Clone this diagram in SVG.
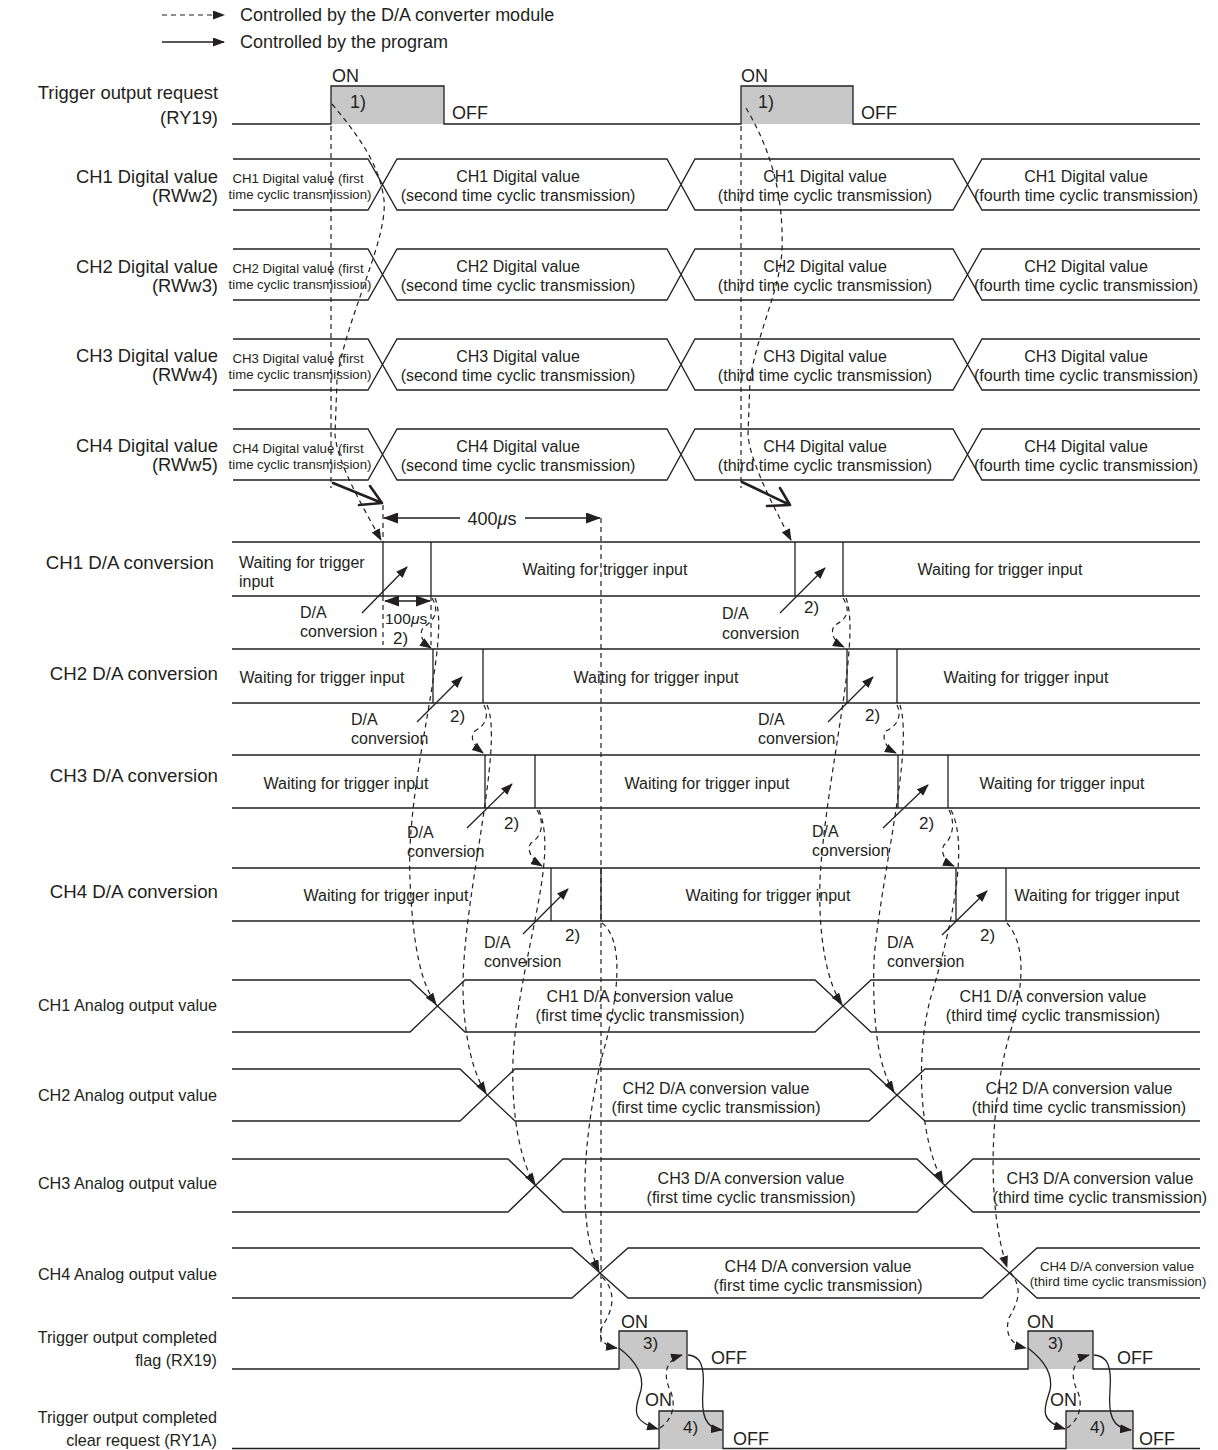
<svg xmlns="http://www.w3.org/2000/svg" width="1218" height="1450" viewBox="0 0 1218 1450">
<style>
.ln{stroke:#231f20;stroke-width:1.3;fill:none}
.bx{stroke:#231f20;stroke-width:1.3;fill:none}
.ds{stroke:#231f20;stroke-width:1.2;fill:none;stroke-dasharray:5 4}
.so{stroke:#231f20;stroke-width:1.3;fill:none}
.thk{stroke:#231f20;stroke-width:2.6;fill:none;stroke-linecap:round;stroke-linejoin:round}
.on{fill:#c8c8c8;stroke:none}
text{font-family:"Liberation Sans",Arial,sans-serif;fill:#231f20}
.lb{font-size:18.4px;text-anchor:end}
.lbd{font-size:18.7px;text-anchor:end}
.lb16{font-size:16.2px;text-anchor:end}
.t16{font-size:16px}
.m16{font-size:16px;text-anchor:middle}
.m13{font-size:13.2px;text-anchor:middle}
.t18{font-size:18px}
.n17{font-size:17px}
</style>
<defs>
<marker id="ah" viewBox="0 0 12 9" refX="11" refY="4.5" markerWidth="12" markerHeight="9" markerUnits="userSpaceOnUse" orient="auto"><path d="M0,0 L12,4.5 L0,9 z" fill="#231f20"/></marker>
<marker id="ahb" viewBox="0 0 15 11" refX="14" refY="5.5" markerWidth="15" markerHeight="11" markerUnits="userSpaceOnUse" orient="auto-start-reverse"><path d="M0,0 L15,5.5 L0,11 z" fill="#231f20"/></marker>
</defs>

<g id="legend">
<line x1="162" y1="15" x2="224" y2="15" class="ds" marker-end="url(#ah)"/>
<line x1="162" y1="42" x2="224" y2="42" class="so" marker-end="url(#ah)"/>
<text x="240" y="21" class="t18">Controlled by the D/A converter module</text>
<text x="240" y="48" class="t18">Controlled by the program</text>
</g>

<g id="trigger-request">
<text x="218" y="99" class="lb">Trigger output request</text>
<text x="218" y="124" class="lb">(RY19)</text>
<rect x="331" y="86" width="113" height="38" class="on"/>
<rect x="741" y="86" width="112" height="38" class="on"/>
<path d="M232 124 H331 V86 H444 V124 H741 V86 H853 V124 H1200" class="ln"/>
<text x="332" y="82" class="t18">ON</text>
<text x="350" y="108" class="t18">1)</text>
<text x="452" y="119" class="t18">OFF</text>
<text x="741" y="82" class="t18">ON</text>
<text x="758" y="108" class="t18">1)</text>
<text x="861" y="119" class="t18">OFF</text>
</g>

<g id="digital-ch1">
<text x="218" y="183" class="lb">CH1 Digital value</text>
<text x="218" y="202" class="lb">(RWw2)</text>
<path d="M233 159 H368 L397 210 H667 L695 159 H953 L982 210 H1200 M233 210 H368 L397 159 H667 L695 210 H953 L982 159 H1200" class="ln"/>
<text x="298" y="182.5" class="m13">CH1 Digital value (first</text>
<text x="300" y="198.5" class="m13">time cyclic transmission)</text>
<text x="518" y="181.5" class="m16">CH1 Digital value</text>
<text x="518" y="200.5" class="m16">(second time cyclic transmission)</text>
<text x="825" y="181.5" class="m16">CH1 Digital value</text>
<text x="825" y="200.5" class="m16">(third time cyclic transmission)</text>
<text x="1086" y="181.5" class="m16">CH1 Digital value</text>
<text x="1086" y="200.5" class="m16">(fourth time cyclic transmission)</text>
</g>

<g id="digital-ch2">
<text x="218" y="273" class="lb">CH2 Digital value</text>
<text x="218" y="292" class="lb">(RWw3)</text>
<path d="M233 249 H368 L397 300 H667 L695 249 H953 L982 300 H1200 M233 300 H368 L397 249 H667 L695 300 H953 L982 249 H1200" class="ln"/>
<text x="298" y="272.5" class="m13">CH2 Digital value (first</text>
<text x="300" y="288.5" class="m13">time cyclic transmission)</text>
<text x="518" y="271.5" class="m16">CH2 Digital value</text>
<text x="518" y="290.5" class="m16">(second time cyclic transmission)</text>
<text x="825" y="271.5" class="m16">CH2 Digital value</text>
<text x="825" y="290.5" class="m16">(third time cyclic transmission)</text>
<text x="1086" y="271.5" class="m16">CH2 Digital value</text>
<text x="1086" y="290.5" class="m16">(fourth time cyclic transmission)</text>
</g>

<g id="digital-ch3">
<text x="218" y="362" class="lb">CH3 Digital value</text>
<text x="218" y="381" class="lb">(RWw4)</text>
<path d="M233 339 H368 L397 390 H667 L695 339 H953 L982 390 H1200 M233 390 H368 L397 339 H667 L695 390 H953 L982 339 H1200" class="ln"/>
<text x="298" y="362.5" class="m13">CH3 Digital value (first</text>
<text x="300" y="378.5" class="m13">time cyclic transmission)</text>
<text x="518" y="361.5" class="m16">CH3 Digital value</text>
<text x="518" y="380.5" class="m16">(second time cyclic transmission)</text>
<text x="825" y="361.5" class="m16">CH3 Digital value</text>
<text x="825" y="380.5" class="m16">(third time cyclic transmission)</text>
<text x="1086" y="361.5" class="m16">CH3 Digital value</text>
<text x="1086" y="380.5" class="m16">(fourth time cyclic transmission)</text>
</g>

<g id="digital-ch4">
<text x="218" y="452" class="lb">CH4 Digital value</text>
<text x="218" y="471" class="lb">(RWw5)</text>
<path d="M233 429 H368 L397 480 H667 L695 429 H953 L982 480 H1200 M233 480 H368 L397 429 H667 L695 480 H953 L982 429 H1200" class="ln"/>
<text x="298" y="452.5" class="m13">CH4 Digital value (first</text>
<text x="300" y="468.5" class="m13">time cyclic transmission)</text>
<text x="518" y="451.5" class="m16">CH4 Digital value</text>
<text x="518" y="470.5" class="m16">(second time cyclic transmission)</text>
<text x="825" y="451.5" class="m16">CH4 Digital value</text>
<text x="825" y="470.5" class="m16">(third time cyclic transmission)</text>
<text x="1086" y="451.5" class="m16">CH4 Digital value</text>
<text x="1086" y="470.5" class="m16">(fourth time cyclic transmission)</text>
</g>

<g id="da-ch1">
<text x="214" y="569" class="lbd">CH1 D/A conversion</text>
<path d="M232 542 H1200 M232 596 H1200 M383 542 V596 M431 542 V596 M795 542 V596 M843 542 V596" class="bx"/>
<text x="239" y="568" class="t16">Waiting for trigger</text>
<text x="239" y="587" class="t16">input</text>
<text x="605" y="575" class="m16">Waiting for trigger input</text>
<text x="1000" y="575" class="m16">Waiting for trigger input</text>
</g>

<g id="da-ch2">
<text x="218" y="680" class="lbd">CH2 D/A conversion</text>
<path d="M232 649 H1200 M232 703 H1200 M433 649 V703 M483 649 V703 M847 649 V703 M897 649 V703" class="bx"/>
<text x="322" y="683" class="m16">Waiting for trigger input</text>
<text x="656" y="683" class="m16">Waiting for trigger input</text>
<text x="1026" y="683" class="m16">Waiting for trigger input</text>
</g>

<g id="da-ch3">
<text x="218" y="782" class="lbd">CH3 D/A conversion</text>
<path d="M232 755 H1200 M232 808 H1200 M485 755 V808 M535 755 V808 M898 755 V808 M948 755 V808" class="bx"/>
<text x="346" y="789" class="m16">Waiting for trigger input</text>
<text x="707" y="789" class="m16">Waiting for trigger input</text>
<text x="1062" y="789" class="m16">Waiting for trigger input</text>
</g>

<g id="da-ch4">
<text x="218" y="898" class="lbd">CH4 D/A conversion</text>
<path d="M232 868 H1200 M232 921 H1200 M551 868 V921 M601 868 V921 M956 868 V921 M1006 868 V921" class="bx"/>
<text x="386" y="901" class="m16">Waiting for trigger input</text>
<text x="768" y="901" class="m16">Waiting for trigger input</text>
<text x="1097" y="901" class="m16">Waiting for trigger input</text>
</g>

<g id="analog-ch1">
<text x="217" y="1011" class="lb16">CH1 Analog output value</text>
<path d="M232 980 H410 L465 1032 H815 L871 980 H1200 M232 1032 H410 L465 980 H815 L871 1032 H1200" class="ln"/>
<text x="640" y="1002" class="m16">CH1 D/A conversion value</text>
<text x="640" y="1021" class="m16">(first time cyclic transmission)</text>
<text x="1053" y="1002" class="m16">CH1 D/A conversion value</text>
<text x="1053" y="1021" class="m16">(third time cyclic transmission)</text>
</g>

<g id="analog-ch2">
<text x="217" y="1101" class="lb16">CH2 Analog output value</text>
<path d="M232 1069 H460 L515 1121 H869 L925 1069 H1200 M232 1121 H460 L515 1069 H869 L925 1121 H1200" class="ln"/>
<text x="716" y="1094" class="m16">CH2 D/A conversion value</text>
<text x="716" y="1113" class="m16">(first time cyclic transmission)</text>
<text x="1079" y="1094" class="m16">CH2 D/A conversion value</text>
<text x="1079" y="1113" class="m16">(third time cyclic transmission)</text>
</g>

<g id="analog-ch3">
<text x="217" y="1189" class="lb16">CH3 Analog output value</text>
<path d="M232 1159 H508 L563 1212 H917 L973 1159 H1200 M232 1212 H508 L563 1159 H917 L973 1212 H1200" class="ln"/>
<text x="751" y="1184" class="m16">CH3 D/A conversion value</text>
<text x="751" y="1203" class="m16">(first time cyclic transmission)</text>
<text x="1100" y="1184" class="m16">CH3 D/A conversion value</text>
<text x="1100" y="1203" class="m16">(third time cyclic transmission)</text>
</g>

<g id="analog-ch4">
<text x="217" y="1280" class="lb16">CH4 Analog output value</text>
<path d="M232 1248 H572 L628 1298 H982 L1037 1248 H1200 M232 1298 H572 L628 1248 H982 L1037 1298 H1200" class="ln"/>
<text x="818" y="1272" class="m16">CH4 D/A conversion value</text>
<text x="818" y="1291" class="m16">(first time cyclic transmission)</text>
<text x="1117" y="1271" class="m13">CH4 D/A conversion value</text>
<text x="1118" y="1286" class="m13">(third time cyclic transmission)</text>
</g>

<g id="completed-flag">
<text x="217" y="1343" class="lb16">Trigger output completed</text>
<text x="217" y="1366" class="lb16">flag (RX19)</text>
<rect x="619" y="1331" width="68" height="38" class="on"/>
<rect x="1028" y="1331" width="65" height="38" class="on"/>
<path d="M232 1369 H619 V1331 H687 V1369 H1028 V1331 H1093 V1369 H1200" class="ln"/>
<text x="621" y="1328" class="t18">ON</text>
<text x="643" y="1349" class="n17">3)</text>
<text x="711" y="1364" class="t18">OFF</text>
<text x="1027" y="1328" class="t18">ON</text>
<text x="1048" y="1349" class="n17">3)</text>
<text x="1117" y="1364" class="t18">OFF</text>
</g>

<g id="clear-request">
<text x="217" y="1423" class="lb16">Trigger output completed</text>
<text x="217" y="1446" class="lb16">clear request (RY1A)</text>
<rect x="659" y="1411" width="64" height="38" class="on"/>
<rect x="1066" y="1411" width="67" height="38" class="on"/>
<path d="M232 1448.5 H659 V1411 H723 V1448.5 H1066 V1411 H1133 V1448.5 H1200" class="ln"/>
<text x="645" y="1406" class="t18">ON</text>
<text x="683" y="1433" class="n17">4)</text>
<text x="733" y="1445" class="t18">OFF</text>
<text x="1050" y="1406" class="t18">ON</text>
<text x="1090" y="1433" class="n17">4)</text>
<text x="1139" y="1445" class="t18">OFF</text>
</g>

<g id="annotations">
<text x="300" y="618" class="t16">D/A</text><text x="300" y="637" class="t16">conversion</text>
<text x="351" y="725" class="t16">D/A</text><text x="351" y="744" class="t16">conversion</text>
<text x="407" y="838" class="t16">D/A</text><text x="407" y="857" class="t16">conversion</text>
<text x="484" y="948" class="t16">D/A</text><text x="484" y="967" class="t16">conversion</text>
<text x="722" y="619" class="t16">D/A</text><text x="722" y="639" class="t16">conversion</text>
<text x="758" y="725" class="t16">D/A</text><text x="758" y="744" class="t16">conversion</text>
<text x="812" y="837" class="t16">D/A</text><text x="812" y="856" class="t16">conversion</text>
<text x="887" y="948" class="t16">D/A</text><text x="887" y="967" class="t16">conversion</text>
<text x="393" y="644" class="n17">2)</text>
<text x="450" y="722" class="n17">2)</text>
<text x="504" y="829" class="n17">2)</text>
<text x="565" y="941" class="n17">2)</text>
<text x="804" y="613" class="n17">2)</text>
<text x="865" y="721" class="n17">2)</text>
<text x="919" y="829" class="n17">2)</text>
<text x="980" y="941" class="n17">2)</text>
<text x="492" y="524.5" class="t18" text-anchor="middle">400<tspan font-style="italic">μ</tspan>s</text>
<text x="385" y="624" style="font-size:15.5px">100<tspan font-style="italic">μ</tspan>s</text>
</g>

<g id="connectors">
<path d="M460 518 H384" class="so" marker-end="url(#ahb)"/>
<path d="M525 518 H600" class="so" marker-end="url(#ahb)"/>
<path d="M385 601 H430" class="so" marker-start="url(#ahb)" marker-end="url(#ahb)"/>
<path d="M383 505 V542 M383 596 V645 M431 596 V645 M601 518 V1345" class="ds"/>
<path d="M333 483 L382 503 M359 505 L382 503 L370 486" class="thk"/>
<path d="M742 482 L790 505 M767 506 L790 505 L780 488" class="thk"/>
<g class="so">
<line x1="362" y1="613" x2="407" y2="567" marker-end="url(#ah)"/>
<line x1="417" y1="722" x2="462" y2="677" marker-end="url(#ah)"/>
<line x1="467" y1="828" x2="512" y2="784" marker-end="url(#ah)"/>
<line x1="523" y1="934" x2="568" y2="889" marker-end="url(#ah)"/>
<line x1="780" y1="613" x2="825" y2="568" marker-end="url(#ah)"/>
<line x1="828" y1="722" x2="873" y2="677" marker-end="url(#ah)"/>
<line x1="883" y1="828" x2="928" y2="785" marker-end="url(#ah)"/>
<line x1="942" y1="935" x2="987" y2="891" marker-end="url(#ah)"/>
</g>
<g class="ds">
<path d="M331 126 V488"/>
<path d="M332 104 C358 135, 380 165, 384 200 C388 240, 345 320, 337 380 L335 435 C338 465, 362 505, 381 540" marker-end="url(#ah)"/>
<path d="M432 598 C440 612, 434 620, 424 627 C418 633, 422 642, 431 648" marker-end="url(#ah)"/>
<path d="M435 598 C452 640, 405 780, 410 880 C413 950, 422 985, 436 1004" marker-end="url(#ah)"/>
<path d="M484 705 C490 718, 484 726, 475 731 C469 737, 474 746, 483 753" marker-end="url(#ah)"/>
<path d="M487 705 C505 745, 462 900, 463 990 C464 1040, 474 1075, 486 1093" marker-end="url(#ah)"/>
<path d="M537 810 C546 825, 540 838, 531 843 C526 850, 532 860, 542 866" marker-end="url(#ah)"/>
<path d="M539 810 C560 860, 518 960, 513 1060 C511 1120, 522 1165, 535 1184" marker-end="url(#ah)"/>
<path d="M602 923 C624 940, 620 995, 601 1060 C583 1140, 577 1225, 599 1271" marker-end="url(#ah)"/>
<path d="M602 1277 C618 1292, 612 1312, 603 1325 C596 1338, 604 1346, 617 1348" marker-end="url(#ah)"/>
</g>
<g class="ds">
<path d="M741 126 V488"/>
<path d="M746 108 C768 145, 784 190, 782 250 C780 290, 758 330, 750 380 L748 435 C750 460, 770 500, 791 540" marker-end="url(#ah)"/>
<path d="M843 598 C852 612, 845 620, 835 625 C829 632, 834 642, 844 647" marker-end="url(#ah)"/>
<path d="M846 598 C862 640, 825 780, 820 880 C818 940, 828 985, 842 1004" marker-end="url(#ah)"/>
<path d="M897 705 C903 718, 895 727, 886 731 C881 738, 886 748, 896 753" marker-end="url(#ah)"/>
<path d="M900 705 C914 750, 880 880, 874 960 C872 1030, 880 1070, 894 1092" marker-end="url(#ah)"/>
<path d="M949 810 C956 824, 952 838, 944 845 C940 852, 945 862, 954 866" marker-end="url(#ah)"/>
<path d="M951 810 C972 850, 945 950, 930 1000 C915 1060, 920 1140, 943 1182" marker-end="url(#ah)"/>
<path d="M1007 923 C1026 945, 1025 985, 1008 1040 C992 1100, 985 1200, 1007 1267" marker-end="url(#ah)"/>
<path d="M1010 1272 C1025 1290, 1016 1305, 1009 1318 C1004 1335, 1012 1345, 1026 1348" marker-end="url(#ah)"/>
</g>
<path d="M619 1348 C632 1358, 645 1372, 641 1390 C637 1405, 627 1420, 658 1429" class="so" marker-end="url(#ah)"/>
<path d="M660 1428 C672 1420, 677 1405, 670 1390 C663 1375, 665 1360, 682 1355" class="ds" marker-end="url(#ah)"/>
<path d="M688 1355 C700 1356, 705 1365, 703 1390 C701 1415, 705 1428, 722 1430" class="so" marker-end="url(#ah)"/>
<path d="M1028 1348 C1041 1358, 1054 1372, 1050 1390 C1046 1405, 1036 1420, 1065 1429" class="so" marker-end="url(#ah)"/>
<path d="M1067 1428 C1079 1420, 1084 1405, 1077 1390 C1070 1375, 1072 1360, 1089 1355" class="ds" marker-end="url(#ah)"/>
<path d="M1094 1355 C1107 1356, 1112 1365, 1110 1390 C1108 1415, 1112 1428, 1131 1430" class="so" marker-end="url(#ah)"/>
</g>
</svg>
